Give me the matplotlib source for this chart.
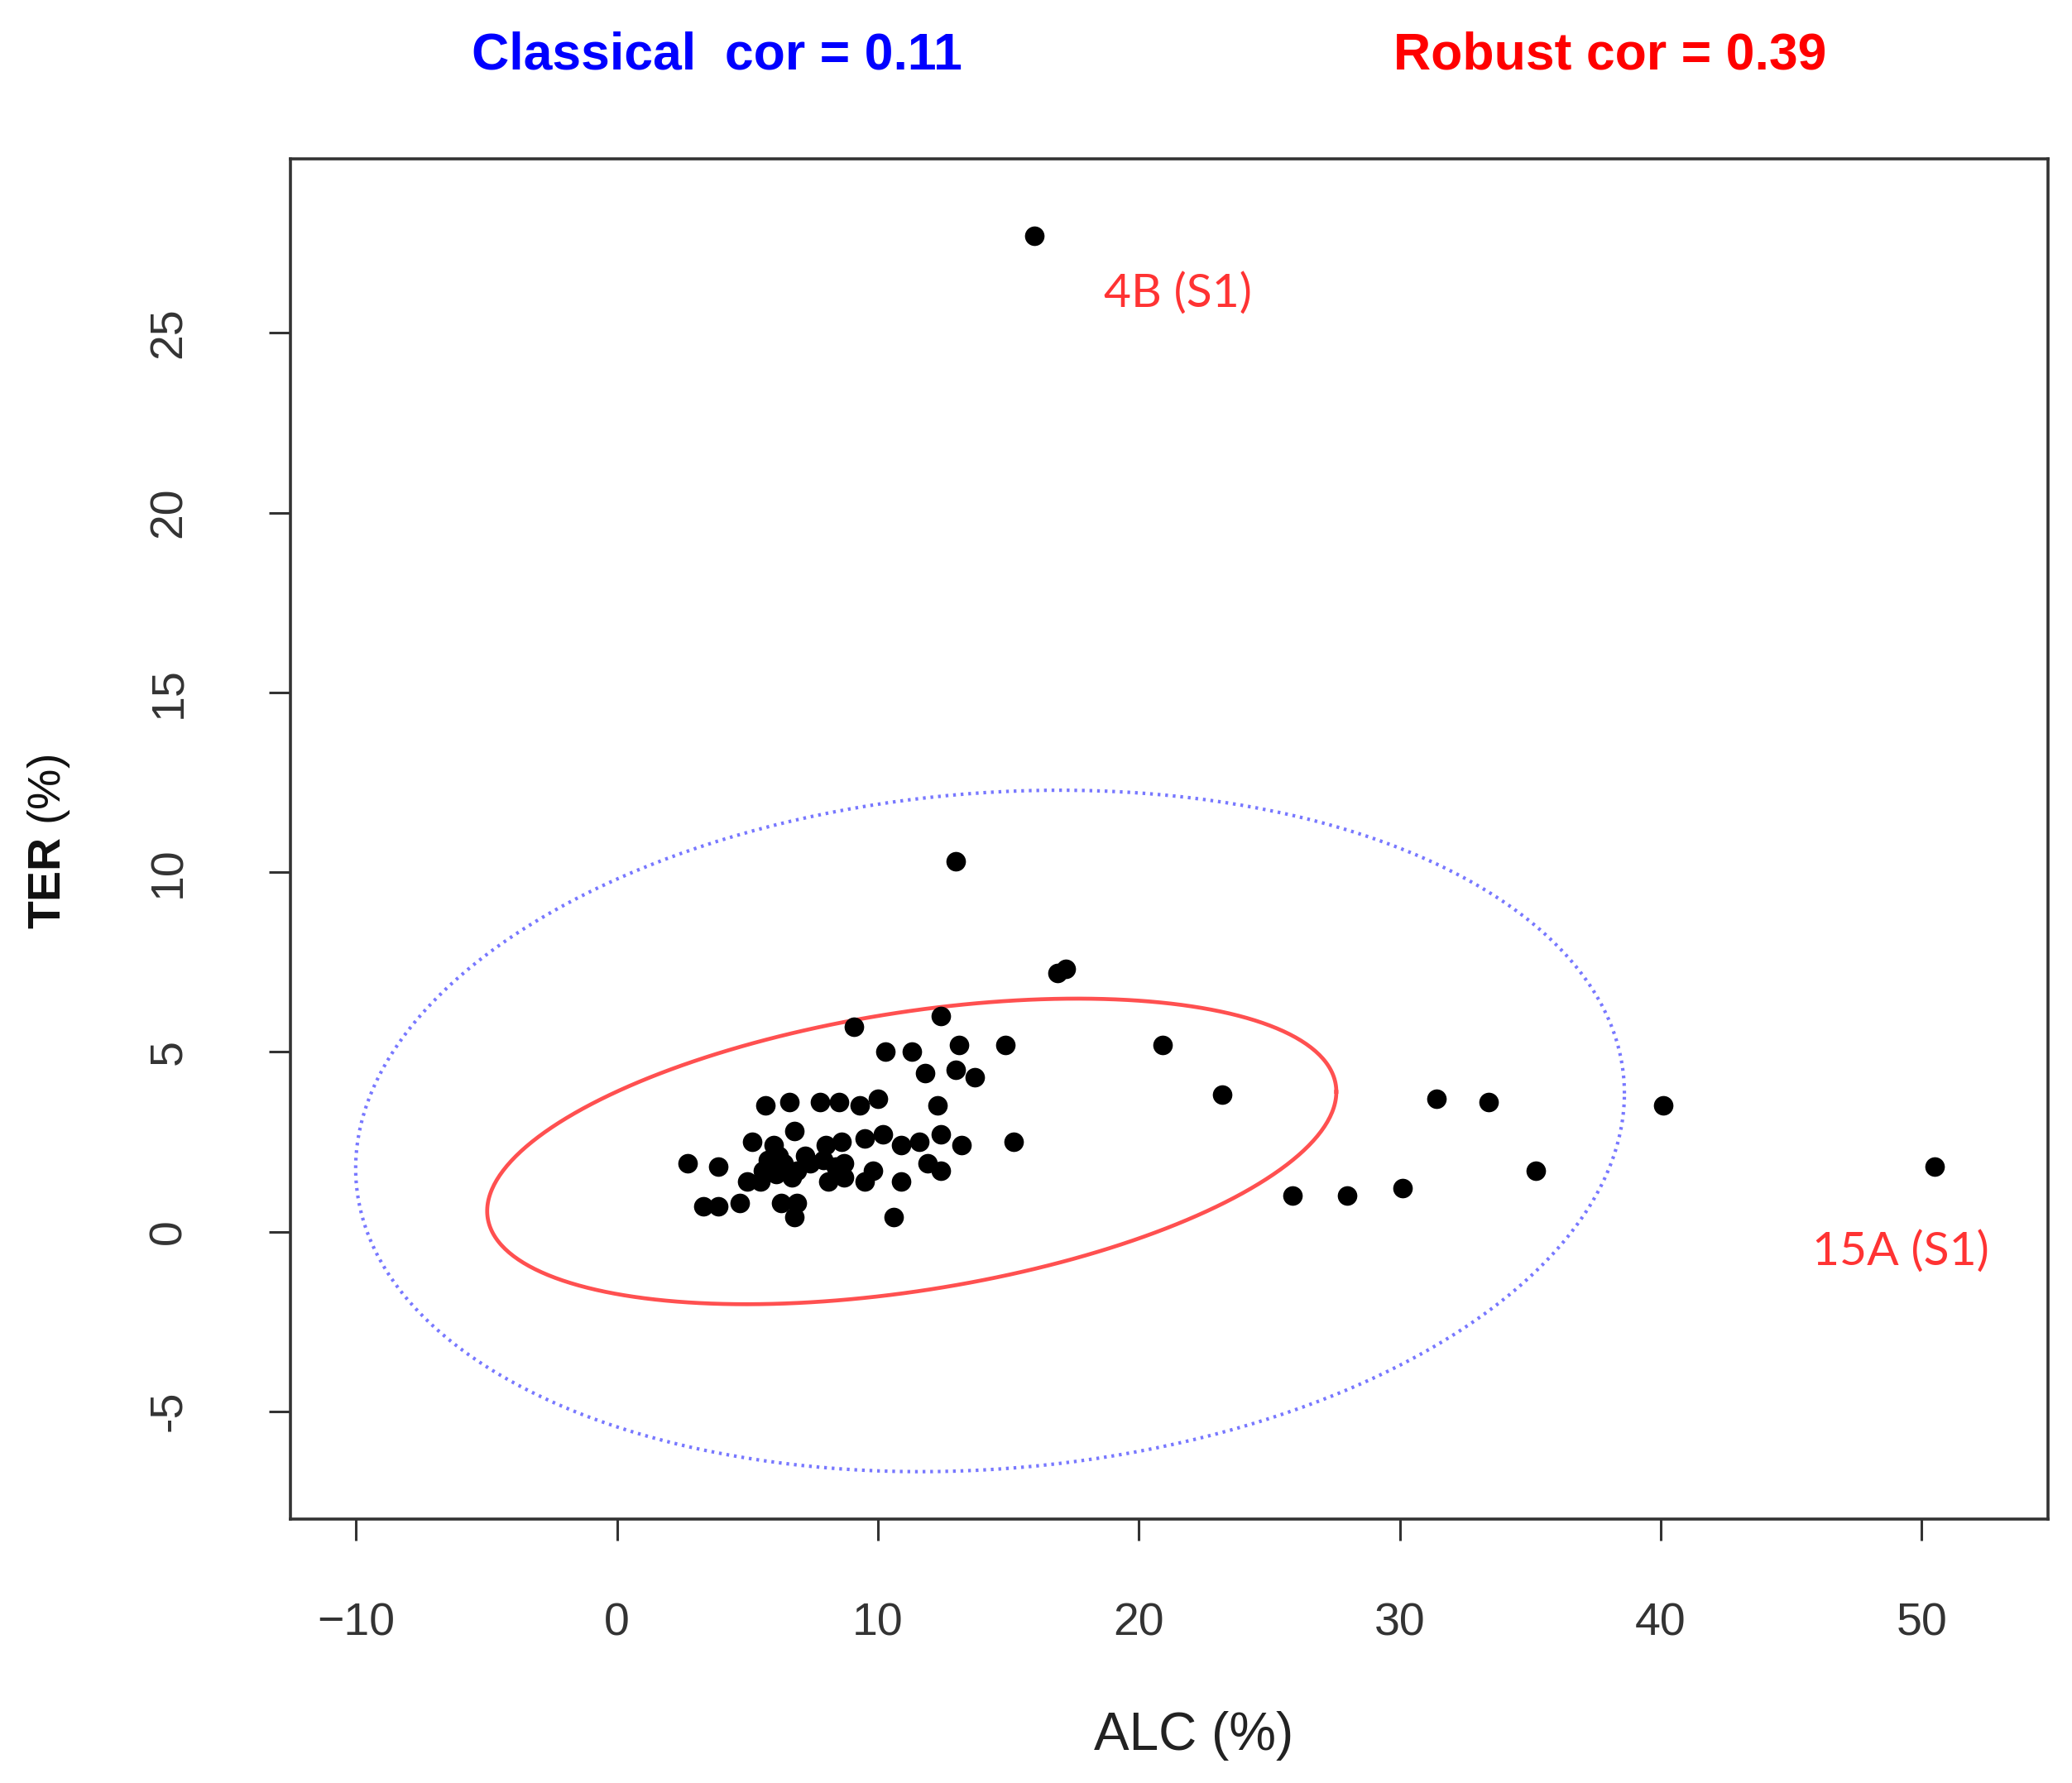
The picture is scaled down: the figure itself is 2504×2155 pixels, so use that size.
import numpy as np
import matplotlib
matplotlib.use("Agg")
import matplotlib.pyplot as plt

plt.rcParams["mathtext.fontset"] = "custom"
plt.rcParams["mathtext.bf"] = "Liberation Sans:bold"
plt.rcParams["mathtext.rm"] = "Liberation Sans"

# ---------------- data ----------------
alc = [16.0, 13.0, 16.9, 17.2, 20.9, 23.2, 25.9, 28.0, 30.1, 31.4, 33.4, 35.2, 40.1, 50.5,
       9.1, 12.4, 10.3, 11.3, 13.1, 14.9, 11.8, 13.0, 13.7,
       5.7, 6.6, 7.8, 8.5, 9.3, 10.0, 12.3,
       6.8, 5.2, 6.0, 8.0, 8.6, 9.5, 10.2, 10.9, 11.6, 12.4, 13.2, 15.2,
       2.7, 3.9, 5.8, 6.4, 6.9, 7.4, 7.9, 8.4, 8.7, 9.8, 11.9, 12.4,
       5.0, 5.5, 6.1, 6.7, 8.1, 8.7, 9.5, 10.9,
       3.3, 3.9, 4.7, 6.3, 6.9, 6.8, 10.6,
       6.2, 7.2, 5.6]
ter = [27.7, 10.3, 7.2, 7.3, 5.2, 3.8, 1.0, 1.0, 1.2, 3.7, 3.6, 1.7, 3.5, 1.8,
       5.7, 6.0, 5.0, 5.0, 5.2, 5.2, 4.4, 4.5, 4.3,
       3.5, 3.6, 3.6, 3.6, 3.5, 3.7, 3.5,
       2.8, 2.5, 2.4, 2.4, 2.5, 2.6, 2.7, 2.4, 2.5, 2.7, 2.4, 2.5,
       1.9, 1.8, 2.0, 1.9, 1.7, 1.9, 2.0, 1.8, 1.9, 1.7, 1.9, 1.7,
       1.4, 1.4, 1.6, 1.5, 1.4, 1.5, 1.4, 1.4,
       0.7, 0.7, 0.8, 0.8, 0.8, 0.4, 0.4,
       2.1, 2.1, 1.7]

classical_center = [14.3, 2.8]
classical_sd = [8.95, 3.49]
classical_cor = 0.11
robust_center = [11.3, 2.23]
robust_sd = [5.99, 1.565]
robust_cor = 0.39
chi2_975 = 7.378  # qchisq(0.975, 2)

labels = ["4B (S1)", "15A (S1)"]
label_x = [21.5, 49.2]
label_y = [26.1, -0.55]

xticks = [-10, 0, 10, 20, 30, 40, 50]
yticks = [-5, 0, 5, 10, 15, 20, 25]
xlim = (-12.5, 54.85)
ylim = (-8.0, 29.85)

# ---------------- helpers ----------------
def ellipse(center, sd, cor, q, n=400):
    cov = np.array([[sd[0] ** 2, cor * sd[0] * sd[1]],
                    [cor * sd[0] * sd[1], sd[1] ** 2]])
    L = np.linalg.cholesky(cov)
    t = np.linspace(0, 2 * np.pi, n)
    circ = np.vstack([np.cos(t), np.sin(t)]) * np.sqrt(q)
    pts = L @ circ
    return pts[0] + center[0], pts[1] + center[1]

# ---------------- figure ----------------
fig = plt.figure(figsize=(25.04, 21.55), dpi=100)
ax = fig.add_axes([0.1403, 0.148, 0.8482, 0.763])

ex, ey = ellipse(classical_center, classical_sd, classical_cor, chi2_975)
ax.plot(ex, ey, color="#7878ff", lw=3.0, ls=(0, (0.8, 1.4)))
rx, ry = ellipse(robust_center, robust_sd, robust_cor, chi2_975)
ax.plot(rx, ry, color="#ff5050", lw=3.4)

ax.scatter(alc, ter, s=290, color="black", zorder=3, linewidths=0)

for s, x, y in zip(labels, label_x, label_y):
    ax.text(x, y, s, color="#ff3333", fontsize=41, ha="center", va="center",
            family=["Lato", "DejaVu Sans"])

ax.set_xlim(*xlim)
ax.set_ylim(*ylim)
ax.set_xticks(xticks)
ax.set_yticks(yticks)
ax.set_xticklabels([str(v).replace("-", "\u2212") for v in xticks],
                   family="Liberation Sans", fontsize=40, color="#333333")
ax.set_yticklabels([str(v) for v in yticks], rotation=90, va="center",
                   family="Liberation Sans", fontsize=40, color="#333333")
ax.tick_params(axis="both", length=19, width=2.2, color="#333333")
ax.tick_params(axis="x", pad=53)
ax.tick_params(axis="y", pad=68)
for sp in ax.spines.values():
    sp.set_linewidth(2.6)
    sp.set_color("#333333")

fig.text(0.576, 0.0265, "ALC (%)", ha="center", va="center", fontsize=46,
         family="Liberation Sans", color="#222222")
fig.text(0.0236, 0.528, r"$\mathbf{TER}$ (%)", rotation=90, ha="center", va="center",
         fontsize=40, family="Liberation Sans", color="#111111")

title_font = ["Liberation Sans", "DejaVu Sans"]
fig.text(0.346, 0.969, "Classical  cor = 0.11", ha="center", va="center",
         fontsize=45, fontweight="bold", color="#0000ff", family=title_font)
fig.text(0.777, 0.969, "Robust cor = 0.39", ha="center", va="center",
         fontsize=45, fontweight="bold", color="#ff0000", family=title_font)

fig.savefig("out.png", dpi=100, facecolor="white")
